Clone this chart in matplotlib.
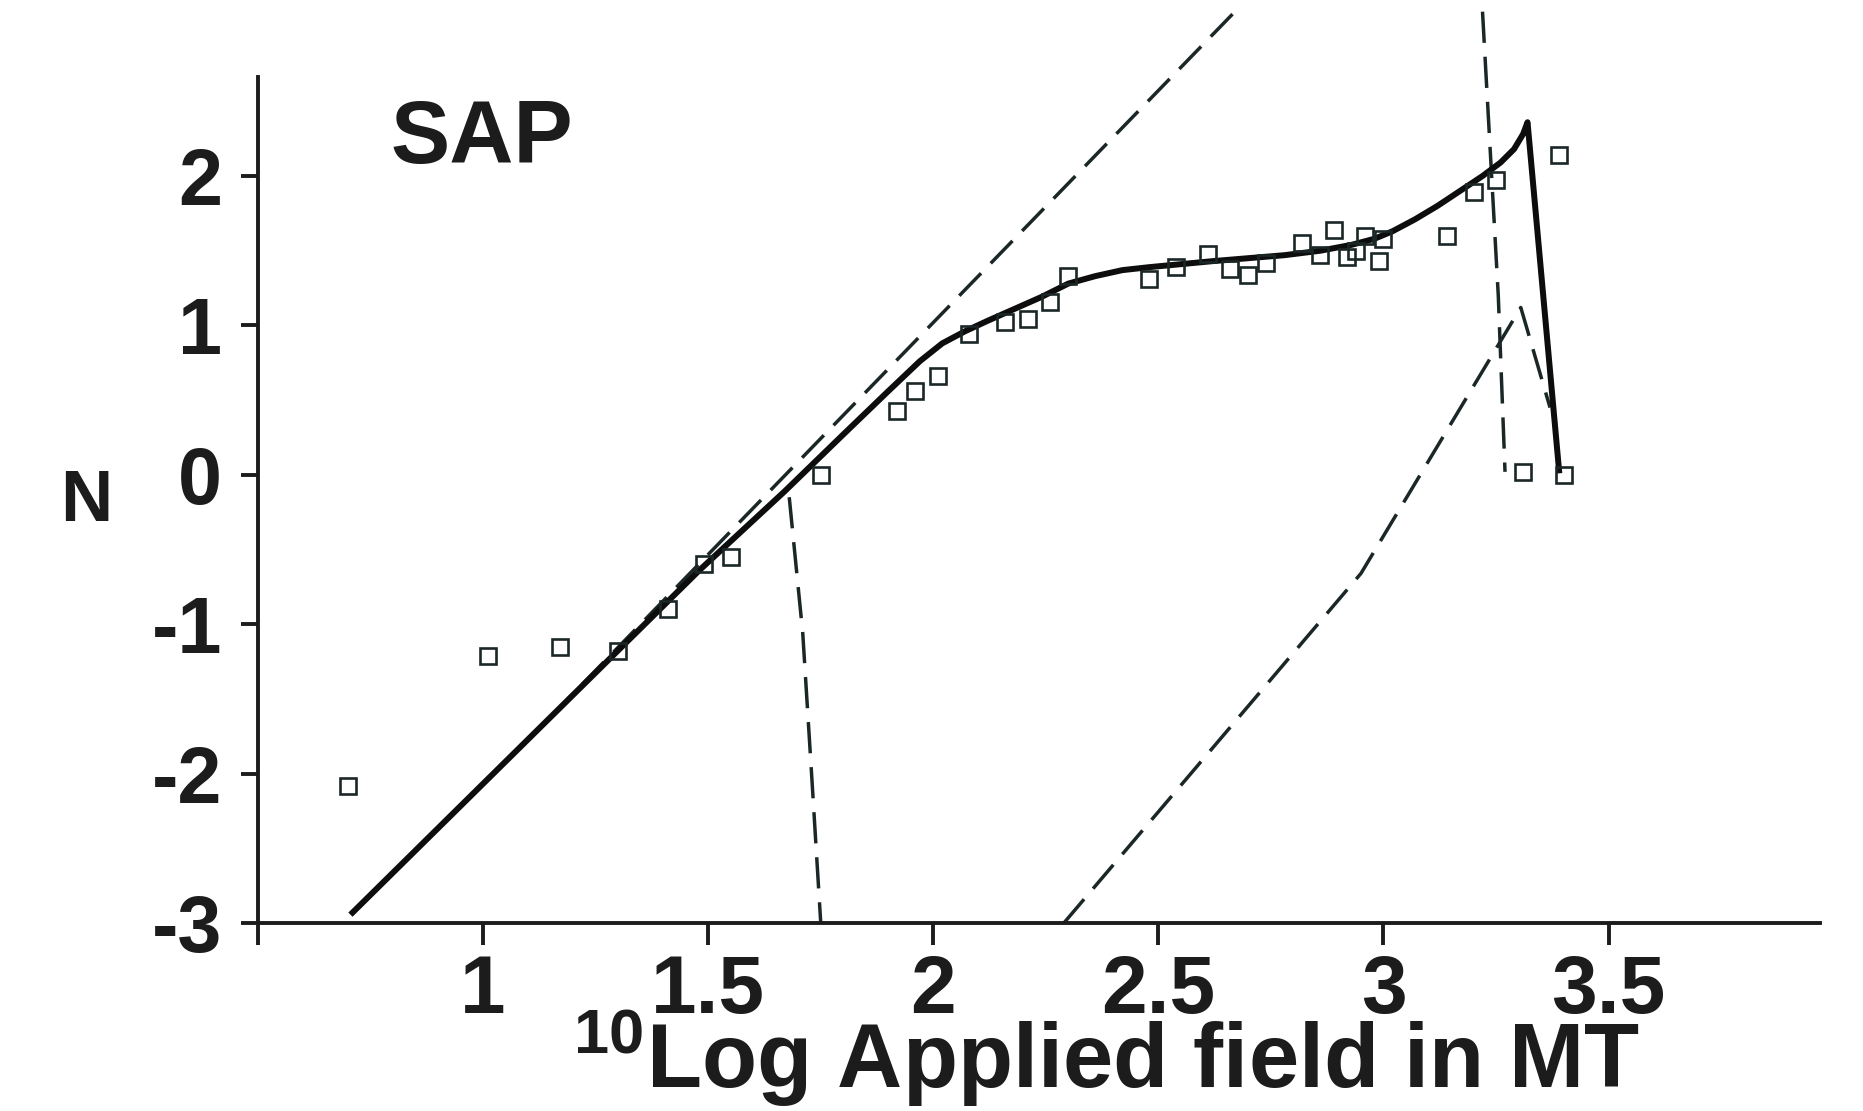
#!/usr/bin/env python3
"""
SAP: N versus log10 of the applied field, with the fitted total curve (solid),
its component branches (dashed) and the measured points (open squares).
"""

import matplotlib

matplotlib.use("Agg")
import matplotlib.pyplot as plt

plt.rcParams["font.family"] = ["Liberation Sans", "DejaVu Sans"]
plt.rcParams["font.weight"] = "bold"
plt.rcParams["mathtext.fontset"] = "custom"
plt.rcParams["mathtext.rm"] = "Liberation Sans:bold"
plt.rcParams["mathtext.it"] = "Liberation Sans:bold"
plt.rcParams["mathtext.bf"] = "Liberation Sans:bold"

COLOR_TEXT = "#1c1c1c"
COLOR_FIT = "#0d0d0d"
COLOR_PART = "#1b2727"

# measured points
meas_x = [0.70, 1.01, 1.17, 1.30, 1.41, 1.49, 1.55, 1.75, 1.92, 1.96, 2.01,
          2.08, 2.16, 2.21, 2.26, 2.30, 2.48, 2.54, 2.61, 2.66, 2.70, 2.74,
          2.82, 2.86, 2.89, 2.92, 2.94, 2.96, 2.99, 3.00, 3.14, 3.20, 3.25,
          3.31, 3.39, 3.40]
meas_n = [-2.08, -1.21, -1.15, -1.18, -0.90, -0.60, -0.55, 0.00, 0.43, 0.56,
          0.66, 0.94, 1.02, 1.04, 1.16, 1.33, 1.31, 1.39, 1.48, 1.38, 1.34,
          1.42, 1.55, 1.47, 1.64, 1.46, 1.50, 1.60, 1.43, 1.58, 1.60, 1.89,
          1.97, 0.02, 2.14, 0.00]

# total fitted curve
fit_x = [0.71, 1.48, 1.67, 1.80, 1.90, 1.97, 2.02, 2.07, 2.12, 2.18, 2.24,
         2.30, 2.36, 2.42, 2.48, 2.55, 2.62, 2.70, 2.78, 2.86, 2.93, 2.98,
         3.02, 3.07, 3.12, 3.17, 3.22, 3.26, 3.29, 3.31, 3.32, 3.39]
fit_n = [-2.93, -0.64, -0.11, 0.27, 0.56, 0.76, 0.88, 0.96, 1.03, 1.11, 1.19,
         1.28, 1.33, 1.37, 1.39, 1.41, 1.43, 1.45, 1.47, 1.50, 1.54, 1.58,
         1.63, 1.71, 1.80, 1.90, 2.00, 2.09, 2.18, 2.28, 2.36, 0.03]

# component branches
part1_x = [1.15, 2.67]
part1_n = [-1.62, 3.10]
part2_x = [1.68, 1.71, 1.73, 1.75]
part2_n = [-0.15, -1.06, -2.02, -3.00]
part3_x = [2.29, 2.95, 3.305, 3.37]
part3_n = [-3.00, -0.66, 1.12, 0.45]
part4_x = [3.22, 3.255, 3.27]
part4_n = [3.10, 1.20, 0.02]

x_ticks = [0.5, 1, 1.5, 2, 2.5, 3, 3.5]
x_tick_labels = ["", "1", "1.5", "2", "2.5", "3", "3.5"]
y_ticks = [-3, -2, -1, 0, 1, 2]
y_tick_labels = ["-3", "-2", "-1", "0", "1", "2"]


def main() -> None:
    fig = plt.figure(figsize=(18.63, 11.11), dpi=100, facecolor="white")
    ax = fig.add_axes([0.1385, 0.1692, 0.8385, 0.8203])
    ax.set_xlim(0.5, 3.97)
    ax.set_ylim(-3, 3.1)

    dash = (0, (9, 4))
    for xs, ns in [(part1_x, part1_n), (part2_x, part2_n),
                   (part3_x, part3_n), (part4_x, part4_n)]:
        ax.plot(xs, ns, color=COLOR_PART, lw=2.5, linestyle=dash,
                solid_capstyle="butt", clip_on=False)

    ax.plot(fit_x, fit_n, color=COLOR_FIT, lw=4.3, solid_joinstyle="round")
    ax.plot(meas_x, meas_n, linestyle="none", marker="s", ms=11, mew=1.9,
            mfc="none", mec=COLOR_PART, clip_on=False)

    ax.text(0.795, 2.09, "SAP", fontsize=64, fontweight="bold", color=COLOR_TEXT,
            ha="left", va="baseline")

    # axes: only the left and bottom spines, left one stops short of the top
    for side in ("top", "right"):
        ax.spines[side].set_visible(False)
    for side in ("left", "bottom"):
        ax.spines[side].set_linewidth(2.8)
        ax.spines[side].set_color(COLOR_TEXT)
    ax.spines["left"].set_bounds(-3, 2.66)

    ax.set_xticks(x_ticks)
    ax.set_xticklabels(x_tick_labels)
    ax.set_yticks(y_ticks)
    ax.set_yticklabels(y_tick_labels)
    ax.tick_params(axis="x", direction="out", length=16, width=2.8, pad=6,
                   labelsize=59, colors=COLOR_TEXT)
    ax.tick_params(axis="y", direction="out", length=12, width=2.8, pad=14,
                   labelsize=57, colors=COLOR_TEXT)

    ax.set_xlabel(r"$^{10}$Log Applied field in MT", fontsize=65,
                  fontweight="bold", color=COLOR_TEXT, va="baseline")
    ax.xaxis.set_label_coords(0.543, -0.181)
    ax.set_ylabel("N", fontsize=52, fontweight="bold", color=COLOR_TEXT,
                  rotation=0, ha="center", va="center")
    ax.yaxis.set_label_coords(-0.11, 0.462)

    fig.savefig("out.png", dpi=100, facecolor="white")
    plt.close(fig)


if __name__ == "__main__":
    main()
